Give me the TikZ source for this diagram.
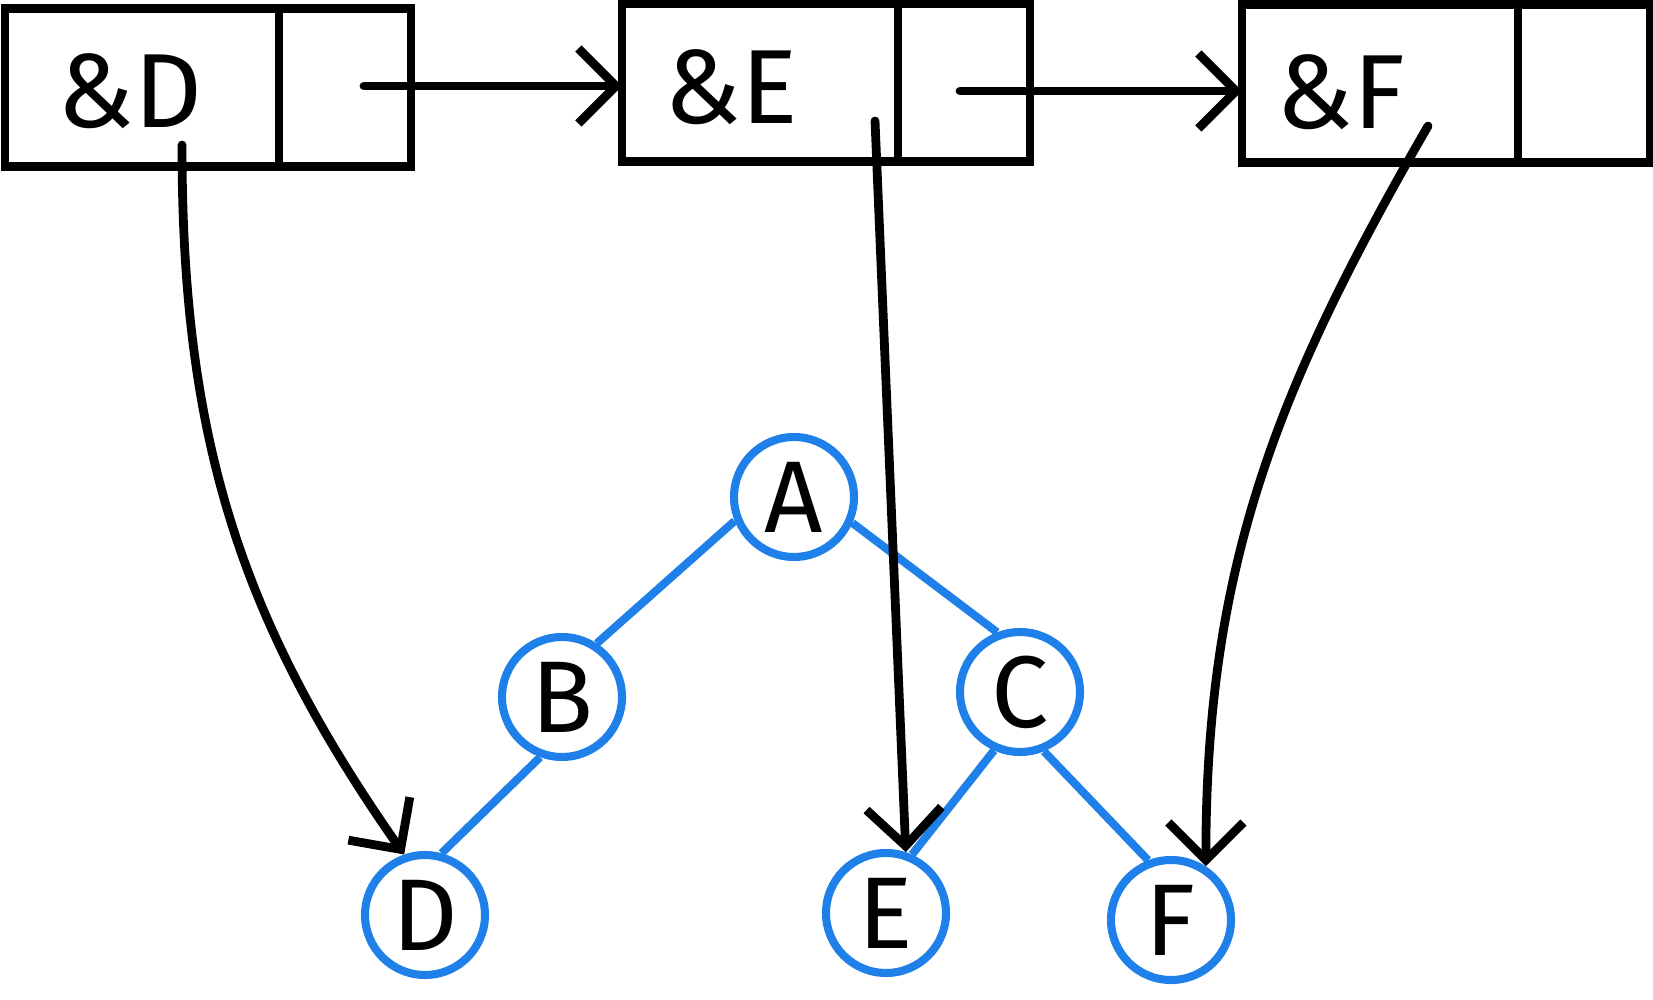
\documentclass[tikz,border=0pt]{standalone}
\usepackage{fontspec}
\setmainfont{Fira Sans}
\usetikzlibrary{positioning,arrows.meta}
\definecolor{treeblue}{RGB}{30,128,232}

\begin{document}
\begin{tikzpicture}[
				x=0.02cm, y=-0.02cm,
				cell/.style={rectangle, draw, line width=5pt, minimum height=3.16cm, inner sep=0pt, outer sep=0pt},
				ptr/.style={font=\fontsize{60}{60}\selectfont},
				leaf/.style={circle, draw=treeblue, line width=4.6pt, fill=white, minimum size=2.4cm, inner sep=0pt, font=\fontsize{58}{58}\selectfont},
				link/.style={-{Straight Barb[length=0.75cm,width=1.5cm,line width=5pt]}, line width=5pt, line cap=round},
				branch/.style={treeblue, line width=4.6pt}
				]
				\useasboundingbox (0,0) rectangle (1653,1000);
				
				% list cells
				\node[cell, minimum width=5.48cm] (cellD) at (142,87.5) {};
				\node[cell, minimum width=2.64cm, right=0pt of cellD] (nextD) {};
				\node[cell, minimum width=5.52cm] (cellE) at (760,82.5) {};
				\node[cell, minimum width=2.64cm, right=0pt of cellE] (nextE) {};
				\node[cell, minimum width=5.52cm] (cellF) at (1380,83.5) {};
				\node[cell, minimum width=2.64cm, right=0pt of cellF] (nextF) {};
				
				\node[ptr] (labD) at (130,91) {\&D};
				\node[ptr] (labE) at (731,87) {\&E};
				\node[ptr] (labF) at (1341,92) {\&F};
				
				% tree
				\node[leaf] (A) at (794,497) {A};
				\node[leaf] (B) at (562,697) {B};
				\node[leaf] (C) at (1020,692) {C};
				\node[leaf] (D) at (425,915) {D};
				\node[leaf] (E) at (886,913) {E};
				\node[leaf] (F) at (1171,920) {F};
				
				\draw[branch] (A.-158) -- (B.57);
				\draw[branch] (A.-24) -- (C.111);
				\draw[branch] (B.-110) -- (D.75);
				\draw[branch] (C.-114) -- (E.66);
				\draw[branch] (C.-68) -- (F.111);
				
				% pointers
				\coordinate (fromnextD) at (364,86);
				\coordinate (fromnextE) at (960,91);
				\coordinate (fromD) at (182,145);
				\coordinate (fromE) at (875,121);
				\coordinate (fromF) at (1428,126);
				
				\draw[link] (fromnextD) -- (fromnextD -| cellE.west);
				\draw[link] (fromnextE) -- (fromnextE -| cellF.west);
				\draw[link] (fromD) to[out=-90, in=125] (D.109);
				\draw[link] (fromE) -- (E.72);
				\draw[link] (fromF) to[out=-120, in=90] (F.57);
			\end{tikzpicture}
\end{document}
